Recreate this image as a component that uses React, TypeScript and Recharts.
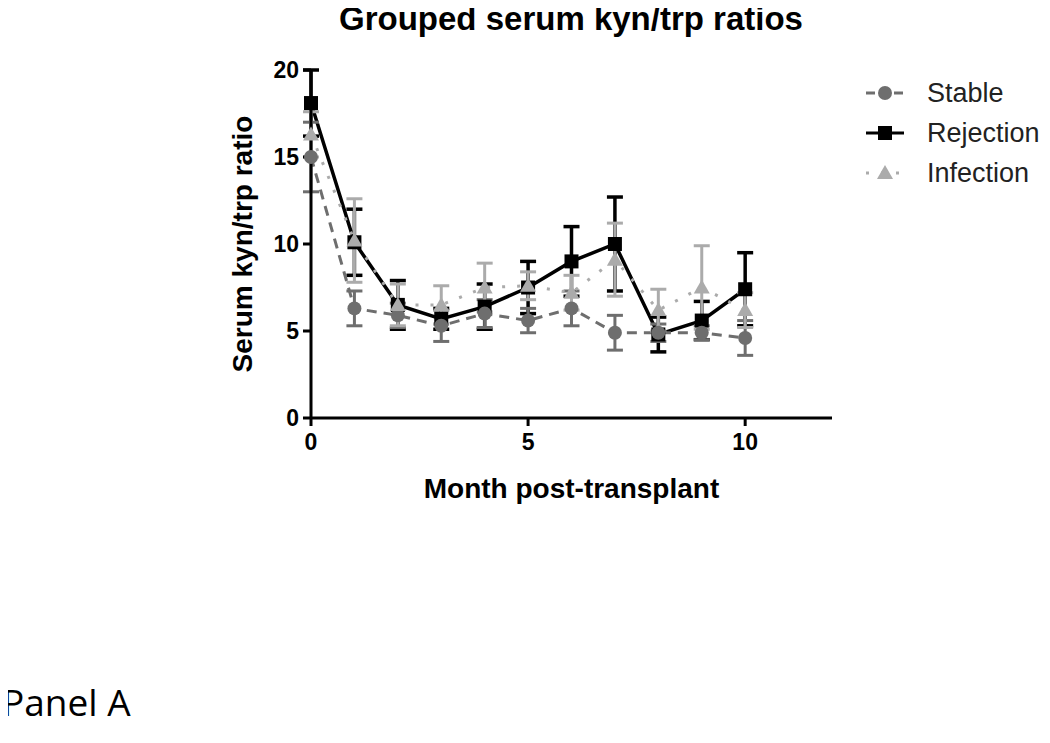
import React from 'react';
import { LineChart, Line, XAxis, YAxis, ErrorBar, Legend } from 'recharts';

// months after transplant
const months = [0, 1, 2, 3, 4, 5, 6, 7, 8, 9, 10];

// group means and SEM
const stable = [15.0, 6.3, 5.9, 5.3, 6.0, 5.6, 6.3, 4.9, 4.9, 4.9, 4.6];
const stableErr = [2.0, 1.0, 0.7, 0.9, 0.8, 0.7, 1.0, 1.0, 0.5, 0.4, 1.0];
const rejection = [18.1, 10.1, 6.5, 5.7, 6.4, 7.5, 9.0, 10.0, 4.8, 5.6, 7.4];
const rejectionErr = [1.9, 1.9, 1.4, 0.6, 1.3, 1.5, 2.0, 2.7, 1.0, 1.1, 2.1];
const infection = [16.3, 10.2, 6.5, 6.5, 7.5, 7.6, 7.2, 9.1, 6.2, 7.5, 6.2];
const infectionErr = [1.3, 2.4, 1.2, 1.1, 1.4, 0.8, 1.0, 2.1, 1.2, 2.4, 1.0];

const xTicks = [0, 5, 10];
const yTicks = [0, 5, 10, 15, 20];

const STABLE = '#6e6e6e';
const REJECTION = '#000000';
const INFECTION = '#ababab';
const FONT = '"Liberation Sans", Arial, sans-serif';

const data = months.map((m, i) => ({
  month: m,
  stable: stable[i],
  stableErr: stableErr[i],
  rejection: rejection[i],
  rejectionErr: rejectionErr[i],
  infection: infection[i],
  infectionErr: infectionErr[i],
}));

const CircleDot = (props: any) => {
  const { cx, cy, index } = props;
  return <circle key={'c' + index} cx={cx} cy={cy} r={7} fill={STABLE} />;
};

const SquareDot = (props: any) => {
  const { cx, cy, index } = props;
  return <rect key={'s' + index} x={cx - 7} y={cy - 7} width={14} height={14} fill={REJECTION} />;
};

const TriangleDot = (props: any) => {
  const { cx, cy, index } = props;
  return (
    <polygon
      key={'t' + index}
      points={`${cx},${cy - 8} ${cx + 8},${cy + 6} ${cx - 8},${cy + 6}`}
      fill={INFECTION}
    />
  );
};

const legendItems = [
  { name: 'Stable', color: STABLE, dash: '9 5', marker: 'circle' },
  { name: 'Rejection', color: REJECTION, dash: undefined, marker: 'square' },
  { name: 'Infection', color: INFECTION, dash: '3 12', marker: 'triangle' },
];

function GraphLegend() {
  return (
    <svg width={190} height={120}>
      {legendItems.map((it, i) => {
        const y = 15 + i * 40;
        return (
          <g key={it.name}>
            <line x1={4} x2={42} y1={y} y2={y} stroke={it.color} strokeWidth={3} strokeDasharray={it.dash} />
            {it.marker === 'circle' && <circle cx={23} cy={y} r={7} fill={it.color} />}
            {it.marker === 'square' && <rect x={16} y={y - 7} width={14} height={14} fill={it.color} />}
            {it.marker === 'triangle' && (
              <polygon points={`23,${y - 8} 31,${y + 6} 15,${y + 6}`} fill={it.color} />
            )}
            <text x={65} y={y + 9} fontSize={27} fill="#222" fontFamily={FONT}>
              {it.name}
            </text>
          </g>
        );
      })}
    </svg>
  );
}

export default function App() {
  const axisTick = { fill: '#000', fontSize: 23, fontWeight: 'bold', fontFamily: FONT };
  return (
    <div style={{ position: 'relative', width: 1050, height: 743, margin: -8, background: '#fff' }}>
      <div
        style={{
          position: 'absolute',
          left: 0,
          top: 0,
          width: 1142,
          textAlign: 'center',
          fontFamily: FONT,
          fontWeight: 'bold',
          fontSize: 33,
          color: '#000',
        }}
      >
        Grouped serum kyn/trp ratios
      </div>
      <LineChart
        width={1050}
        height={743}
        data={data}
        margin={{ top: 70, right: 28, bottom: 245, left: 221 }}
      >
        <XAxis
          dataKey="month"
          type="number"
          domain={[0, 12]}
          ticks={xTicks}
          tick={axisTick}
          tickSize={8}
          tickMargin={8}
          axisLine={{ stroke: '#000', strokeWidth: 3 }}
          tickLine={{ stroke: '#000', strokeWidth: 3 }}
          height={80}
          label={{
            value: 'Month post-transplant',
            position: 'insideBottom',
            offset: 0,
            fill: '#000',
            fontSize: 28,
            fontWeight: 'bold',
            fontFamily: FONT,
          }}
        />
        <YAxis
          domain={[0, 20]}
          ticks={yTicks}
          tick={axisTick}
          tickSize={8}
          tickMargin={4}
          axisLine={{ stroke: '#000', strokeWidth: 3 }}
          tickLine={{ stroke: '#000', strokeWidth: 3 }}
          width={90}
          label={{
            value: 'Serum kyn/trp ratio',
            angle: -90,
            position: 'insideLeft',
            offset: 21,
            style: { textAnchor: 'middle' },
            fill: '#000',
            fontSize: 28,
            fontWeight: 'bold',
            fontFamily: FONT,
          }}
        />
        <Legend
          layout="vertical"
          verticalAlign="top"
          align="right"
          content={() => <GraphLegend />}
          wrapperStyle={{ top: 78, left: 862, width: 190 }}
        />
        <Line
          dataKey="rejection"
          name="Rejection"
          stroke={REJECTION}
          strokeWidth={3.5}
          dot={SquareDot}
          activeDot={false}
          isAnimationActive={false}
        >
          <ErrorBar dataKey="rejectionErr" width={8} stroke={REJECTION} strokeWidth={3.5} direction="y" />
        </Line>
        <Line
          dataKey="stable"
          name="Stable"
          stroke={STABLE}
          strokeWidth={3}
          strokeDasharray="10 7"
          dot={CircleDot}
          activeDot={false}
          isAnimationActive={false}
        >
          <ErrorBar dataKey="stableErr" width={8} stroke={STABLE} strokeWidth={3} direction="y" />
        </Line>
        <Line
          dataKey="infection"
          name="Infection"
          stroke={INFECTION}
          strokeWidth={3}
          strokeDasharray="3 12"
          dot={TriangleDot}
          activeDot={false}
          isAnimationActive={false}
        >
          <ErrorBar dataKey="infectionErr" width={8} stroke={INFECTION} strokeWidth={3} direction="y" />
        </Line>
      </LineChart>
      <div
        style={{
          position: 'absolute',
          left: 2,
          top: 676,
          fontFamily: '"Open Sans", "Noto Sans", sans-serif',
          fontSize: 37,
          color: '#000',
        }}
      >
        Panel A
      </div>
    </div>
  );
}
